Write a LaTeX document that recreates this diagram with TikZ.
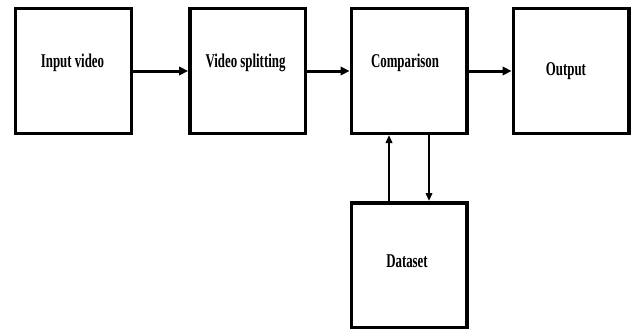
\documentclass[tikz,border=0pt]{standalone}
\usepackage{fontspec}
\setmainfont{Liberation Serif}[FakeStretch=0.66]
\usetikzlibrary{arrows.meta}
\begin{document}
\begin{tikzpicture}[x=1bp,y=1bp,
  blk/.style={draw=black,line width=3.5bp,minimum width=115.5bp,minimum height=124.5bp,inner sep=0,fill=white},
  lbl/.style={font=\fontsize{19.5bp}{22bp}\selectfont\bfseries,inner sep=0},
  harr/.style={line width=3bp,-{Triangle[length=9bp,width=8.5bp]}},
  varr/.style={line width=2bp,-{Triangle[length=8bp,width=6.5bp]}}]
\useasboundingbox (0,0) rectangle (636,329);
\node[blk] (b1) at (73.5,258) {};
\node[blk] (b2) at (247.5,258) {};
\node[blk] (b3) at (409,258) {};
\node[blk] (b4) at (571,258) {};
\node[blk] (b5) at (409,64) {};
\node[lbl] (t1) at ([xshift=-1bp,yshift=8bp]b1.center) {Input video};
\node[lbl] (t2) at ([xshift=-2bp,yshift=8bp]b2.center) {Video splitting};
\node[lbl] (t3) at ([xshift=-4bp,yshift=8bp]b3.center) {Comparison};
\node[lbl] (t4) at ([xshift=-5bp,yshift=0bp]b4.center) {Output};
\node[lbl] (t5) at ([xshift=-2bp,yshift=4bp]b5.center) {Dataset};
\draw[harr] (b1.east) -- (b2.west);
\draw[harr] (b2.east) -- (b3.west);
\draw[harr] (b3.east) -- (b4.west);
\draw[varr] ([xshift=-20bp]b5.north) -- ([xshift=-20bp]b3.south);
\draw[varr] ([xshift=20bp]b3.south) -- ([xshift=20bp]b5.north);
\end{tikzpicture}
\end{document}
